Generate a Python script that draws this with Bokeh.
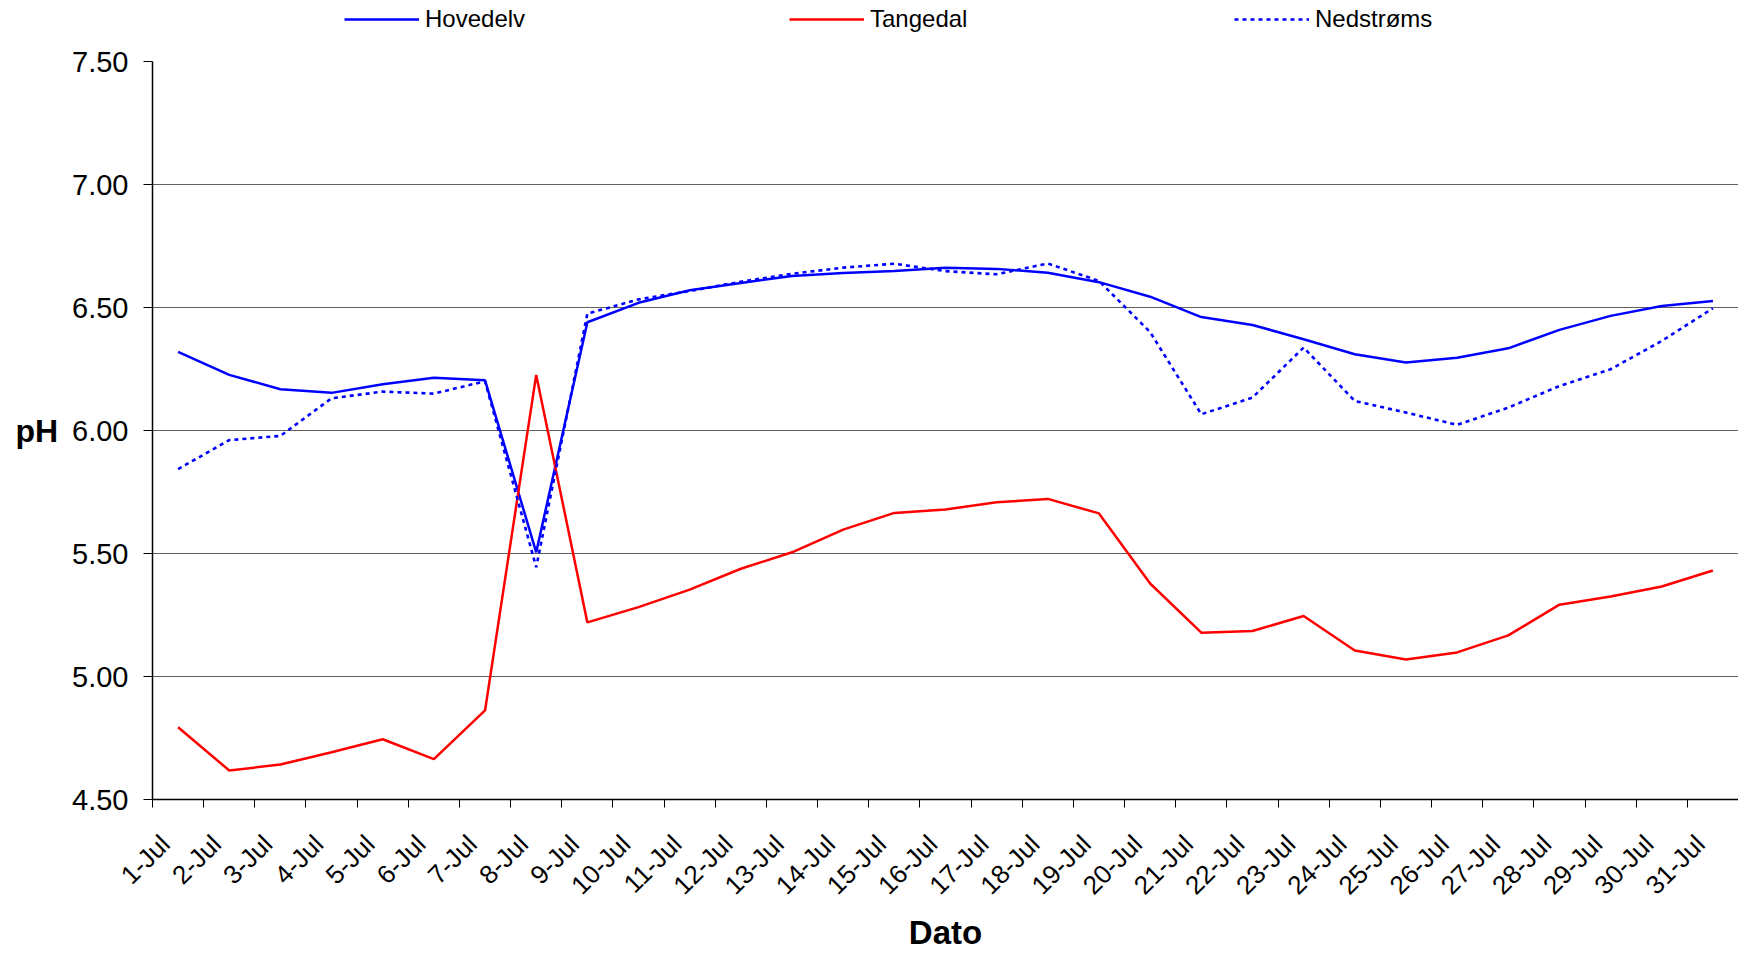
import math
import numpy as np
from bokeh.plotting import figure
from bokeh.layouts import column
from bokeh.models import Range1d, FixedTicker, Legend, LegendItem, Label, NumeralTickFormatter
from bokeh.embed import file_html
from bokeh.resources import INLINE

dates = ["1-Jul", "2-Jul", "3-Jul", "4-Jul", "5-Jul", "6-Jul", "7-Jul", "8-Jul", "9-Jul", "10-Jul",
         "11-Jul", "12-Jul", "13-Jul", "14-Jul", "15-Jul", "16-Jul", "17-Jul", "18-Jul", "19-Jul", "20-Jul",
         "21-Jul", "22-Jul", "23-Jul", "24-Jul", "25-Jul", "26-Jul", "27-Jul", "28-Jul", "29-Jul", "30-Jul",
         "31-Jul"]

hovedelv = [6.32, 6.226, 6.168, 6.153, 6.188, 6.214, 6.204, 5.505, 6.44, 6.519,
            6.570, 6.600, 6.628, 6.640, 6.648, 6.662, 6.657, 6.641, 6.603, 6.544,
            6.461, 6.429, 6.371, 6.310, 6.276, 6.296, 6.334, 6.409, 6.466, 6.506,
            6.526]
tangedal = [4.794, 4.618, 4.642, 4.692, 4.745, 4.664, 4.862, 6.226, 5.22, 5.282,
            5.353, 5.438, 5.505, 5.597, 5.665, 5.679, 5.708, 5.722, 5.663, 5.378,
            5.178, 5.185, 5.246, 5.106, 5.069, 5.098, 5.167, 5.292, 5.325, 5.366,
            5.431]
nedstroms = [5.843, 5.961, 5.978, 6.131, 6.158, 6.150, 6.200, 5.444, 6.475, 6.533,
             6.567, 6.605, 6.637, 6.662, 6.678, 6.648, 6.635, 6.679, 6.608, 6.40,
             6.066, 6.134, 6.337, 6.12, 6.073, 6.023, 6.093, 6.181, 6.249, 6.364,
             6.497]

series_names = ["Hovedelv", "Tangedal", "Nedstrøms"]
y_ticks = [4.5, 5.0, 5.5, 6.0, 6.5, 7.0, 7.5]

FONT = "Liberation Sans"
BLUE = "#0000FF"
RED = "#FF0000"
n = len(dates)
x = np.arange(n) + 0.5
label_pos = x - 0.25   # rotated labels end slightly left of the category centre
series = [hovedelv, tangedal, nedstroms]

LEG_H = 40
p = figure(frame_width=1586, frame_height=738,
           min_border_left=152, min_border_right=0, min_border_top=61 - LEG_H, min_border_bottom=148,
           x_range=Range1d(0, n), y_range=Range1d(y_ticks[0], y_ticks[-1]),
           output_backend="svg", toolbar_location=None)
p.outline_line_color = None
p.background_fill_color = "white"

styles = [dict(line_color=BLUE, line_width=2.5),
          dict(line_color=RED, line_width=2.5),
          dict(line_color=BLUE, line_width=2.6, line_dash="4 4")]

for vals, st in zip(series, styles):
    p.line(x, vals, **st)

# x axis
xa = p.xaxis[0]
xa.ticker = FixedTicker(ticks=list(label_pos), minor_ticks=list(range(n + 1)))
xa.major_label_overrides = {float(xi): d for xi, d in zip(label_pos, dates)}
xa.major_tick_out = 0
xa.major_tick_in = 0
xa.minor_tick_out = 8
xa.minor_tick_in = 0
xa.minor_tick_line_color = "black"
xa.axis_line_color = "black"
xa.axis_line_width = 1.5
xa.major_label_orientation = math.pi / 4
xa.major_label_text_font = FONT
xa.major_label_text_font_size = "26px"
xa.major_label_text_color = "black"
xa.major_label_standoff = 32
xa.axis_label = "Dato"
xa.axis_label_text_font = FONT
xa.axis_label_text_font_style = "bold"
xa.axis_label_text_font_size = "33px"
xa.axis_label_text_color = "black"
xa.axis_label_standoff = 0

# y axis
ya = p.yaxis[0]
ya.ticker = FixedTicker(ticks=y_ticks)
ya.formatter = NumeralTickFormatter(format="0.00")
ya.major_tick_out = 9
ya.major_tick_in = 0
ya.minor_tick_out = 0
ya.minor_tick_in = 0
ya.major_tick_line_color = "black"
ya.axis_line_color = "black"
ya.axis_line_width = 1.5
ya.major_label_text_font = FONT
ya.major_label_text_font_size = "29px"
ya.major_label_text_color = "black"
ya.major_label_standoff = 15

if "axis_label_orientation" in ya.properties():
    ya.axis_label = "pH"
    ya.axis_label_orientation = "horizontal"
    ya.axis_label_text_font = FONT
    ya.axis_label_text_font_style = "bold"
    ya.axis_label_text_font_size = "32px"
    ya.axis_label_text_color = "black"
    ya.axis_label_standoff = 11
else:
    p.add_layout(Label(x=-113, y=6.0, x_units="screen", y_units="data", text="pH",
                       text_font=FONT, text_font_style="bold", text_font_size="32px",
                       text_align="center", text_baseline="middle", text_color="black"))

p.xgrid.grid_line_color = None
p.ygrid.grid_line_color = "#606060"
p.ygrid.grid_line_width = 1.2

# legend strip above the chart (series drawn out of its visible range, only the key shows)
lp = figure(frame_width=1738, frame_height=LEG_H, min_border=0,
            x_range=Range1d(0, n), y_range=Range1d(0, 1),
            x_axis_type=None, y_axis_type=None,
            output_backend="svg", toolbar_location=None)
lp.outline_line_color = None
lp.xgrid.visible = False
lp.ygrid.visible = False
items = []
for name, vals, st in zip(series_names, series, styles):
    r = lp.line(x, vals, **st)
    items.append(LegendItem(label=name, renderers=[r]))

legend = Legend(items=items, location=(344, 7), orientation="horizontal",
                glyph_width=75, glyph_height=20, label_standoff=6, label_width=358, spacing=6,
                padding=0, margin=0, border_line_color=None, background_fill_alpha=0,
                label_text_font=FONT, label_text_font_size="24px", label_text_color="black",
                label_height=20)
lp.add_layout(legend, "center")

layout = column(lp, p, spacing=0)
open("out.html", "w").write(file_html(layout, INLINE))
